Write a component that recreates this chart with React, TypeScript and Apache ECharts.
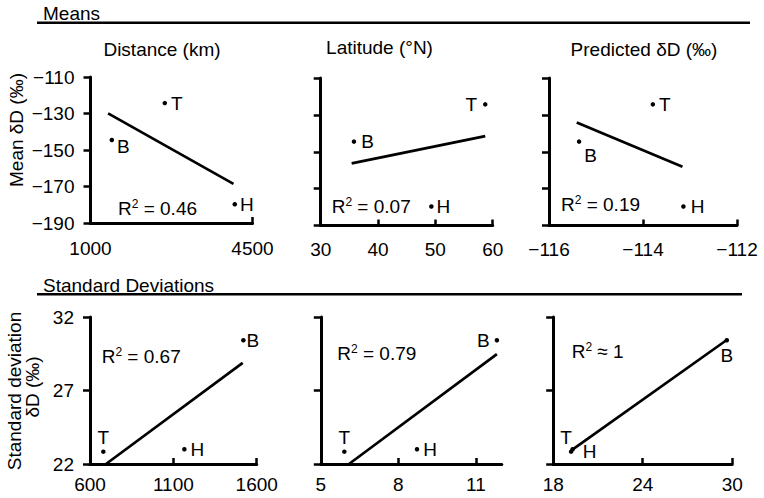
import React, { useEffect, useRef } from 'react';
import * as echarts from 'echarts';

// ---------- data ----------
const siteNames = ['B', 'T', 'H'];
const meanDeltaD = [-144.5, -124.3, -179.7];
const distanceKm = [1460, 2605, 4117];
const latitudeN = [35.8, 58.7, 49.3];
const predictedDeltaD = [-115.36, -113.79, -113.14];

const sdDeltaD = [30.42, 22.84, 23.0];
const sdDistance = [1520, 680, 1166];
const sdLatitude = [11.81, 5.91, 8.72];
const sdPredicted = [29.64, 19.2, 19.3];

// regression line end points
const fitDistanceX = [1380, 4089];
const fitDistanceY = [-129.9, -168.6];
const fitLatitudeX = [35.4, 58.7];
const fitLatitudeY = [-156.3, -141.5];
const fitPredictedX = [-115.41, -113.16];
const fitPredictedY = [-134.2, -158.1];
const fitSdDistanceX = [696, 1516];
const fitSdDistanceY = [22, 28.88];
const fitSdLatitudeX = [6.09, 11.81];
const fitSdLatitudeY = [22, 29.47];
const fitSdPredictedX = [19.24, 29.68];
const fitSdPredictedY = [22.95, 30.47];

// ticks
const meanTicks = [-190, -170, -150, -130, -110];
const distanceTicks = [1000, 4500];
const latitudeTicks = [30, 40, 50, 60];
const predictedTicks = [-116, -114, -112];
const sdTicks = [22, 27, 32];
const sdDistanceTicks = [600, 1100, 1600];
const sdLatitudeTicks = [5, 8, 11];
const sdPredictedTicks = [18, 24, 30];

const r2Texts = ['= 0.46', '= 0.07', '= 0.19', '= 0.67', '= 0.79', '\u2248 1'];

// ---------- layout / style ----------
const FONT = '"Liberation Sans", Arial, sans-serif';
const FS = 19;

type LP = { position: string; distance: number; offset?: number[] };

const panels = [
  {
    grid: { left: 90.5, top: 77, width: 162, height: 146 },
    x: distanceKm, y: meanDeltaD, fx: fitDistanceX, fy: fitDistanceY,
    xMin: 1000, xMax: 4500, xTicks: distanceTicks,
    yMin: -190, yMax: -110, yTicks: meanTicks, showY: true,
    xMargin: 16, yPad: 4,
    r2: { x: 118, y: 208.3 },
    lp: { B: { position: 'right', distance: 3, offset: [0, 7] }, T: { position: 'right', distance: 4 }, H: { position: 'right', distance: 3 } } as Record<string, LP>,
  },
  {
    grid: { left: 320.7, top: 78, width: 172, height: 147.5 },
    x: latitudeN, y: meanDeltaD, fx: fitLatitudeX, fy: fitLatitudeY,
    xMin: 30, xMax: 60, xTicks: latitudeTicks,
    yMin: -190, yMax: -110, yTicks: meanTicks, showY: false,
    xMargin: 14, yPad: 4,
    r2: { x: 331.7, y: 206 },
    lp: { B: { position: 'right', distance: 5 }, T: { position: 'left', distance: 6 }, H: { position: 'right', distance: 3 } } as Record<string, LP>,
  },
  {
    grid: { left: 549, top: 78, width: 188, height: 147.5 },
    x: predictedDeltaD, y: meanDeltaD, fx: fitPredictedX, fy: fitPredictedY,
    xMin: -116, xMax: -112, xTicks: predictedTicks,
    yMin: -190, yMax: -110, yTicks: meanTicks, showY: false,
    xMargin: 14, yPad: 4,
    r2: { x: 561, y: 204.5 },
    lp: { B: { position: 'right', distance: 3, offset: [0, 14] }, T: { position: 'right', distance: 4 }, H: { position: 'right', distance: 5 } } as Record<string, LP>,
  },
  {
    grid: { left: 90, top: 317, width: 166.7, height: 147 },
    x: sdDistance, y: sdDeltaD, fx: fitSdDistanceX, fy: fitSdDistanceY,
    xMin: 600, xMax: 1600, xTicks: sdDistanceTicks,
    yMin: 22, yMax: 32, yTicks: sdTicks, showY: true,
    xMargin: 11, yPad: 6,
    r2: { x: 101.7, y: 356.7 },
    lp: { B: { position: 'right', distance: 1 }, T: { position: 'top', distance: 2 }, H: { position: 'right', distance: 4 } } as Record<string, LP>,
  },
  {
    grid: { left: 320.8, top: 317, width: 181, height: 147 },
    x: sdLatitude, y: sdDeltaD, fx: fitSdLatitudeX, fy: fitSdLatitudeY,
    xMin: 5, xMax: 12, xTicks: sdLatitudeTicks,
    yMin: 22, yMax: 32, yTicks: sdTicks, showY: false,
    xMargin: 11, yPad: 6,
    r2: { x: 337.3, y: 353 },
    lp: { B: { position: 'left', distance: 5 }, T: { position: 'top', distance: 2 }, H: { position: 'right', distance: 4 } } as Record<string, LP>,
  },
  {
    grid: { left: 553.2, top: 317, width: 179, height: 147 },
    x: sdPredicted, y: sdDeltaD, fx: fitSdPredictedX, fy: fitSdPredictedY,
    xMin: 18, xMax: 30, xTicks: sdPredictedTicks,
    yMin: 22, yMax: 32, yTicks: sdTicks, showY: false,
    xMargin: 11, yPad: 6,
    r2: { x: 571.7, y: 351.7 },
    lp: { B: { position: 'bottom', distance: 4 }, T: { position: 'top', distance: 2, offset: [-5, 0] }, H: { position: 'right', distance: 8, offset: [0, 2] } } as Record<string, LP>,
  },
];

const fmt = (v: number) => String(v).replace('-', '\u2212');

function textEl(text: string, x: number, y: number, align = 'left', rotation = 0) {
  return {
    type: 'text',
    x, y, rotation,
    silent: true,
    style: {
      text, fill: '#000', fontSize: FS, fontFamily: FONT,
      align, verticalAlign: 'middle', textAlign: align, textVerticalAlign: 'middle',
    },
  };
}

function buildOption() {
  const grid: any[] = [];
  const xAxis: any[] = [];
  const yAxis: any[] = [];
  const series: any[] = [];
  const graphic: any[] = [];

  panels.forEach((p, i) => {
    grid.push({ ...p.grid, outerBoundsMode: 'none', containLabel: false });
    xAxis.push({
      type: 'value', gridIndex: i, min: p.xMin, max: p.xMax,
      axisLine: { show: true, onZero: false, lineStyle: { color: '#000', width: 3 } },
      axisTick: { show: true, inside: true, length: 6, customValues: p.xTicks, lineStyle: { color: '#000', width: 2.5 } },
      axisLabel: { show: true, customValues: p.xTicks, margin: p.xMargin, color: '#000', fontSize: FS, fontFamily: FONT, formatter: fmt },
      splitLine: { show: false },
    });
    yAxis.push({
      type: 'value', gridIndex: i, min: p.yMin, max: p.yMax,
      axisLine: { show: true, onZero: false, lineStyle: { color: '#000', width: 3 } },
      axisTick: { show: true, inside: false, length: 7, customValues: p.yTicks, lineStyle: { color: '#000', width: 2.5 } },
      axisLabel: { show: p.showY, customValues: p.yTicks, margin: 16, padding: [p.yPad, 0, 0, 0], color: '#000', fontSize: FS, fontFamily: FONT, formatter: fmt },
      splitLine: { show: false },
    });
    series.push({
      type: 'line', xAxisIndex: i, yAxisIndex: i, symbol: 'none', silent: true,
      lineStyle: { color: '#000', width: 2.7 },
      data: p.fx.map((v, k) => [v, p.fy[k]]),
    });
    series.push({
      type: 'scatter', xAxisIndex: i, yAxisIndex: i, symbol: 'circle', symbolSize: 4.5, silent: true,
      itemStyle: { color: '#000', opacity: 1 },
      data: siteNames.map((n, k) => ({
        name: n,
        value: [p.x[k], p.y[k]],
        label: {
          show: true, formatter: n, color: '#000', opacity: 1, textBorderWidth: 0,
          fontSize: FS, fontFamily: FONT, ...p.lp[n],
        },
      })),
    });
    graphic.push({
      type: 'text', x: p.r2.x, y: p.r2.y, silent: true,
      style: {
        text: '{r|R}{s|2}{r| ' + r2Texts[i] + '}',
        fill: '#000', fontSize: FS, fontFamily: FONT,
        align: 'left', verticalAlign: 'middle', textAlign: 'left', textVerticalAlign: 'middle',
        rich: {
          r: { fontSize: FS, fontFamily: FONT, fill: '#000', color: '#000', lineHeight: 21 },
          s: { fontSize: 12, fontFamily: FONT, fill: '#000', color: '#000', verticalAlign: 'top', lineHeight: 13 },
        },
      },
    });
  });

  graphic.push(textEl('Means', 43, 13.3));
  graphic.push({ type: 'line', silent: true, shape: { x1: 37, y1: 22.7, x2: 750, y2: 22.7 }, style: { stroke: '#000', lineWidth: 2.5 } });
  graphic.push(textEl('Standard Deviations', 43, 285));
  graphic.push({ type: 'line', silent: true, shape: { x1: 37, y1: 294.3, x2: 742, y2: 294.3 }, style: { stroke: '#000', lineWidth: 2.5 } });
  graphic.push(textEl('Distance (km)', 162, 49, 'center'));
  graphic.push(textEl('Latitude (\u00B0N)', 379.5, 47.5, 'center'));
  graphic.push(textEl('Predicted \u03B4D (\u2030)', 644, 49, 'center'));
  graphic.push(textEl('Mean \u03B4D (\u2030)', 16, 130, 'center', Math.PI / 2));
  graphic.push(textEl('Standard deviation', 14.5, 391, 'center', Math.PI / 2));
  graphic.push(textEl('\u03B4D (\u2030)', 32.5, 387, 'center', Math.PI / 2));

  return {
    animation: false,
    backgroundColor: '#fff',
    textStyle: { fontFamily: FONT, color: '#000' },
    grid, xAxis, yAxis, series, graphic,
  };
}

export default function App() {
  const ref = useRef<HTMLDivElement>(null);
  useEffect(() => {
    if (!ref.current) return;
    const chart = echarts.init(ref.current, null, { renderer: 'svg' });
    chart.setOption(buildOption() as any);
    return () => chart.dispose();
  }, []);
  return (
    <div
      ref={ref}
      style={{ position: 'fixed', left: 0, top: 0, width: 764, height: 498, background: '#fff' }}
    />
  );
}
